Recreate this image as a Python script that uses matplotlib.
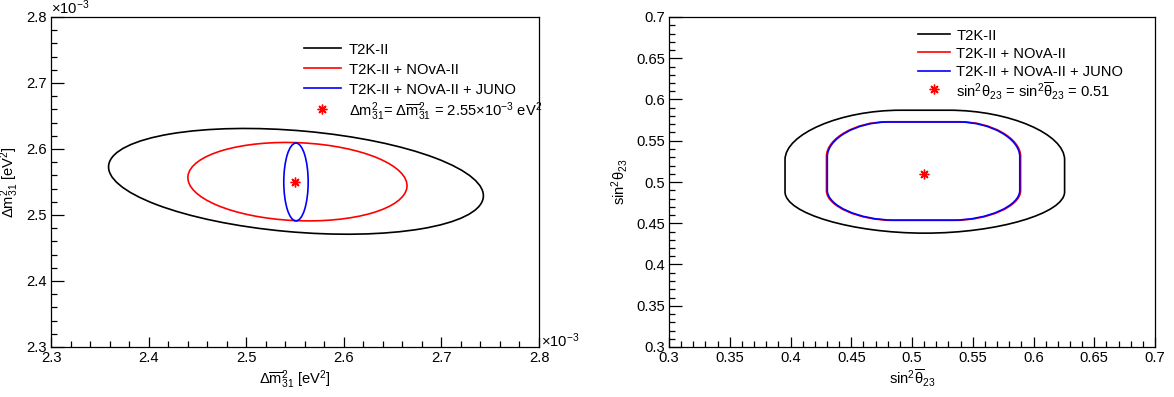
import matplotlib
matplotlib.use("Agg")
import matplotlib.pyplot as plt
from matplotlib.patches import Ellipse, PathPatch
from matplotlib.path import Path
from matplotlib.ticker import MultipleLocator, FormatStrFormatter

plt.rcParams['font.family'] = ['Liberation Sans', 'DejaVu Sans']
plt.rcParams['mathtext.fontset'] = 'custom'
plt.rcParams['mathtext.rm'] = 'Liberation Sans'
plt.rcParams['mathtext.it'] = 'Liberation Sans'
plt.rcParams['mathtext.default'] = 'regular'

# --- data -------------------------------------------------------------
labels = ["T2K-II", "T2K-II + NOvA-II", "T2K-II + NOvA-II + JUNO"]
colors = ["black", "red", "blue"]

# left: dm2_31 (nu) vs dm2_31 (nubar), units of 1e-3 eV^2
dm_cx = [2.551, 2.5525, 2.551]
dm_cy = [2.551, 2.5505, 2.550]
dm_w = [0.387, 0.225, 0.025]
dm_h = [0.153, 0.118, 0.118]
dm_ang = [-7.7, -4.3, 0.0]
dm_true = 2.55
dm_star_label = r"$\Delta m^2_{31}$= $\Delta\overline{m}^2_{31}$ = 2.55$\times$10$^{-3}$ eV$^2$"

# right: sin2theta23 (nu) vs sin2theta23 (nubar)
s_xlo = [0.3955, 0.4296, 0.4303]
s_xhi = [0.6256, 0.5894, 0.5887]
s_ylo = [0.438, 0.4535, 0.4538]
s_yhi = [0.587, 0.573, 0.5727]
s_top_rx = [0.095, 0.050, 0.050]
s_top_ry = [0.060, 0.042, 0.042]
s_bot_rx = [0.115, 0.055, 0.055]
s_bot_ry = [0.050, 0.036, 0.036]
s_true = 0.51
s_star_label = r"sin$^2\theta_{23}$ = sin$^2\overline{\theta}_{23}$ = 0.51"


def rounded(x0, x1, y0, y1, tx, ty, bx, by, k=0.52):
    C = Path.CURVE4
    v = [(x0 + bx, y0), (x1 - bx, y0),
         (x1 - bx + k * bx, y0), (x1, y0 + by - k * by), (x1, y0 + by),
         (x1, y1 - ty),
         (x1, y1 - ty + k * ty), (x1 - tx + k * tx, y1), (x1 - tx, y1),
         (x0 + tx, y1),
         (x0 + tx - k * tx, y1), (x0, y1 - ty + k * ty), (x0, y1 - ty),
         (x0, y0 + by),
         (x0, y0 + by - k * by), (x0 + bx - k * bx, y0), (x0 + bx, y0)]
    c = [Path.MOVETO, Path.LINETO, C, C, C, Path.LINETO, C, C, C,
         Path.LINETO, C, C, C, Path.LINETO, C, C, C]
    return Path(v, c)


def legend(ax, x0, x1, xt, rows, star_label):
    # rows are axes fractions for each entry
    for i in range(3):
        ax.plot([x0, x1], [rows[i], rows[i]], transform=ax.transAxes,
                color=colors[i], lw=1.2, clip_on=False)
        ax.text(xt, rows[i], labels[i], transform=ax.transAxes, fontsize=fs,
                ha='left', va='center_baseline')
    ax.plot([(x0 + x1) / 2], [rows[3]], transform=ax.transAxes, ls='none',
            marker=(8, 2, 0), ms=7, mew=1.0, color='red')
    ax.text(xt, rows[3], star_label, transform=ax.transAxes, fontsize=fs,
            ha='left', va='center_baseline')


fig = plt.figure(figsize=(11.74, 3.97), dpi=100)
W, H = 1174., 397.
ax1 = fig.add_axes([51 / W, (H - 347) / H, 488 / W, 330 / H])
ax2 = fig.add_axes([669 / W, (H - 347) / H, 486 / W, 330 / H])

fs = 10.6
for ax in (ax1, ax2):
    for sp in ax.spines.values():
        sp.set_linewidth(0.9)
    ax.tick_params(which='both', direction='in', top=False, right=False,
                   labelsize=fs, width=0.9, pad=3)
    ax.tick_params(axis='y', which='major', length=9)
    ax.tick_params(axis='y', which='minor', length=4.5)
    ax.tick_params(axis='x', which='major', length=7)
    ax.tick_params(axis='x', which='minor', length=4)
    ax.xaxis.set_major_formatter(FormatStrFormatter('%g'))
    ax.yaxis.set_major_formatter(FormatStrFormatter('%g'))

# left panel
for i in range(3):
    ax1.add_patch(Ellipse((dm_cx[i], dm_cy[i]), dm_w[i], dm_h[i], angle=dm_ang[i],
                          fill=False, ec=colors[i], lw=1.2))
ax1.plot([dm_true], [dm_true], ls='none', marker=(8, 2, 0), ms=7, mew=1.0,
         color='red')
ax1.set_xlim(2.3, 2.8)
ax1.set_ylim(2.3, 2.8)
ax1.xaxis.set_major_locator(MultipleLocator(0.1))
ax1.xaxis.set_minor_locator(MultipleLocator(0.02))
ax1.yaxis.set_major_locator(MultipleLocator(0.1))
ax1.yaxis.set_minor_locator(MultipleLocator(0.02))
ax1.set_xlabel(r"$\Delta\overline{m}^2_{31}$ [eV$^2$]", fontsize=fs, labelpad=2)
ax1.set_ylabel(r"$\Delta m^2_{31}$ [eV$^2$]", fontsize=fs, labelpad=4)
ax1.text(0.0, 1.009, r"$\times$10$^{-3}$", transform=ax1.transAxes, fontsize=fs,
         ha='left', va='baseline')
ax1.text(1.004, 0.02, r"$\times$10$^{-3}$", transform=ax1.transAxes, fontsize=fs,
         ha='left', va='center')
legend(ax1, 0.518, 0.594, 0.610,
       [1 - 31 / 330, 1 - 51.3 / 330, 1 - 71.3 / 330, 1 - 91.5 / 330], dm_star_label)

# right panel
for i in range(3):
    p = rounded(s_xlo[i], s_xhi[i], s_ylo[i], s_yhi[i],
                s_top_rx[i], s_top_ry[i], s_bot_rx[i], s_bot_ry[i])
    ax2.add_patch(PathPatch(p, fill=False, ec=colors[i], lw=1.2))
ax2.plot([s_true], [s_true], ls='none', marker=(8, 2, 0), ms=7, mew=1.0,
         color='red')
ax2.set_xlim(0.3, 0.7)
ax2.set_ylim(0.3, 0.7)
ax2.xaxis.set_major_locator(MultipleLocator(0.05))
ax2.xaxis.set_minor_locator(MultipleLocator(0.01))
ax2.yaxis.set_major_locator(MultipleLocator(0.05))
ax2.yaxis.set_minor_locator(MultipleLocator(0.01))
ax2.set_xlabel(r"sin$^2\overline{\theta}_{23}$", fontsize=fs, labelpad=2)
ax2.set_ylabel(r"sin$^2\theta_{23}$", fontsize=fs, labelpad=4)
legend(ax2, 0.512, 0.578, 0.591,
       [1 - 17 / 330, 1 - 35 / 330, 1 - 53.5 / 330, 1 - 72 / 330], s_star_label)

fig.savefig("out.png", dpi=100)
